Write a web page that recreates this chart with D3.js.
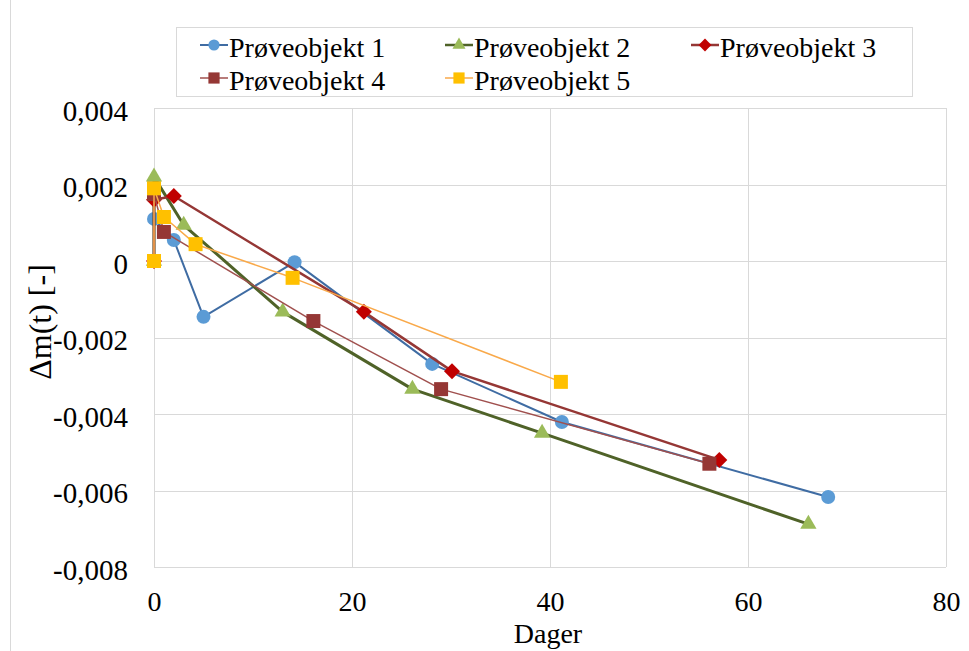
<!DOCTYPE html>
<html>
<head>
<meta charset="utf-8">
<script src="https://cdn.jsdelivr.net/npm/d3@7"></script>
<style>
  html, body { margin: 0; padding: 0; background: #ffffff; }
  svg { display: block; }
</style>
</head>
<body>
<svg id="chart" width="969" height="651"></svg>
<script>
// ---- Data ----
const seriesNames = ["Prøveobjekt 1", "Prøveobjekt 2", "Prøveobjekt 3", "Prøveobjekt 4", "Prøveobjekt 5"];
const days1 = [0, 0, 0, 2, 5, 14.2, 28.1, 41.2, 68.1];
const mass1 = [0, 0.00205, 0.0011, 0.00055, -0.00146, -0.00003, -0.00269, -0.00421, -0.00617];
const days2 = [0, 0, 3, 13, 26.1, 39.2, 66.1];
const mass2 = [0, 0.0022, 0.00094, -0.00133, -0.00335, -0.0045, -0.00688];
const days3 = [0, 0, 2, 21.2, 30.1, 57.1];
const mass3 = [0, 0.0016, 0.0017, -0.00133, -0.00288, -0.0052];
const days4 = [0, 0, 1, 16.1, 29, 56.1];
const mass4 = [0, 0.00175, 0.00076, -0.00157, -0.00335, -0.0053];
const days5 = [0, 0, 1, 4.2, 14, 41.1];
const mass5 = [0, 0.0019, 0.00115, 0.00044, -0.00044, -0.00316];
const xTicks = [0, 20, 40, 60, 80];
const yTicks = [-0.008, -0.006, -0.004, -0.002, 0, 0.002, 0.004];
const xTitle = "Dager";
const yTitle = "Δm(t) [-]";

const FONT = "'Liberation Serif', Tinos, 'Times New Roman', 'DejaVu Serif', serif";

// ---- Styles ----
const styles = [
  { line: "#3F6CA3", lw: 2,   fill: "#5B9BD5", shape: "circle" },
  { line: "#4F6228", lw: 3,   fill: "#9BBB59", shape: "triangle" },
  { line: "#953735", lw: 2.5, fill: "#C00000", shape: "diamond" },
  { line: "#A0504E", lw: 1.5, fill: "#953735", shape: "square" },
  { line: "#F9A94A", lw: 1.5, fill: "#FFC000", shape: "square" }
];
const seriesData = [
  days1.map((d, i) => [d, mass1[i]]),
  days2.map((d, i) => [d, mass2[i]]),
  days3.map((d, i) => [d, mass3[i]]),
  days4.map((d, i) => [d, mass4[i]]),
  days5.map((d, i) => [d, mass5[i]])
];

const svg = d3.select("#chart");
const L = 154, R = 946, T = 108, B = 567;
const x = d3.scaleLinear().domain([0, 80]).range([L, R]);
const y = d3.scaleLinear().domain([-0.008, 0.004]).range([B, T]);

// outer chart border (left edge visible)
svg.append("line").attr("x1", 10.5).attr("x2", 10.5).attr("y1", 0).attr("y2", 651)
  .attr("stroke", "#d9d9d9").attr("stroke-width", 1);

// gridlines
const grid = svg.append("g");
grid.selectAll(".hg").data(yTicks).join("line")
  .attr("x1", L).attr("x2", R)
  .attr("y1", d => Math.round(y(d)) + 0.5).attr("y2", d => Math.round(y(d)) + 0.5)
  .attr("stroke", "#d9d9d9").attr("stroke-width", 1);
grid.selectAll(".vg").data(xTicks).join("line")
  .attr("y1", T).attr("y2", B)
  .attr("x1", d => Math.round(x(d)) + 0.5).attr("x2", d => Math.round(x(d)) + 0.5)
  .attr("stroke", "#d9d9d9").attr("stroke-width", 1);

// axes
const fmtY = d => d === 0 ? "0" : (d < 0 ? "-" : "") + Math.abs(d).toFixed(3).replace(".", ",");
const yAxis = svg.append("g").attr("transform", `translate(${L},0)`)
  .call(d3.axisLeft(y).tickValues(yTicks).tickFormat(fmtY).tickSize(0).tickPadding(26));
yAxis.attr("font-family", FONT);
yAxis.select(".domain").remove();
yAxis.selectAll("text").attr("dy", "0.42em").attr("font-size", 29)
  .attr("font-family", FONT).attr("fill", "#000");

const xAxis = svg.append("g").attr("transform", `translate(0,${B})`)
  .call(d3.axisBottom(x).tickValues(xTicks).tickFormat(d => String(d)).tickSize(0).tickPadding(24));
xAxis.attr("font-family", FONT);
xAxis.select(".domain").remove();
xAxis.selectAll("text").attr("font-size", 28)
  .attr("font-family", FONT).attr("fill", "#000");

// axis titles
svg.append("text").attr("x", (L + R) / 2 - 2).attr("y", 643).attr("text-anchor", "middle")
  .attr("font-family", FONT).attr("font-size", 28).attr("fill", "#000").text(xTitle);
svg.append("text").attr("transform", "translate(51,322) rotate(-90)").attr("text-anchor", "middle")
  .attr("font-family", FONT).attr("font-size", 32).attr("fill", "#000").text(yTitle);

// marker generator
function markerPath(shape, scale) {
  const s = scale || 1;
  if (shape === "circle") return d3.symbol().type(d3.symbolCircle).size(Math.PI * 49 * s * s)();
  if (shape === "triangle") return d3.symbol().type(d3.symbolTriangle).size(115 * s * s)();
  if (shape === "diamond") return d3.symbol().type(d3.symbolSquare).size(128 * s * s)();
  return d3.symbol().type(d3.symbolSquare).size(196 * s * s)();
}
function markerTransform(shape, px, py) {
  return shape === "diamond" ? `translate(${px},${py}) rotate(45)` : `translate(${px},${py})`;
}

// series
const lineGen = d3.line().x(d => x(d[0])).y(d => y(d[1]));
seriesData.forEach((data, i) => {
  const st = styles[i];
  const g = svg.append("g");
  g.append("path").datum(data).attr("d", lineGen)
    .attr("fill", "none").attr("stroke", st.line).attr("stroke-width", st.lw)
    .attr("stroke-linejoin", "round");
  g.selectAll("path.m").data(data).join("path").attr("class", "m")
    .attr("d", markerPath(st.shape))
    .attr("transform", d => markerTransform(st.shape, x(d[0]), y(d[1])))
    .attr("fill", st.fill);
});

// legend
svg.append("rect").attr("x", 176.5).attr("y", 27.5).attr("width", 736).attr("height", 69)
  .attr("fill", "#fff").attr("stroke", "#d9d9d9").attr("stroke-width", 1);
const legendPos = [[200, 45], [445, 45], [691, 45], [200, 78], [445, 78]];
seriesNames.forEach((name, i) => {
  const st = styles[i];
  const [lx, ly] = legendPos[i];
  const g = svg.append("g");
  g.append("line").attr("x1", lx).attr("x2", lx + 28).attr("y1", ly).attr("y2", ly)
    .attr("stroke", st.line).attr("stroke-width", Math.min(st.lw, 2.5));
  g.append("path").attr("d", markerPath(st.shape, 0.8))
    .attr("transform", markerTransform(st.shape, lx + 14, ly)).attr("fill", st.fill);
  g.append("text").attr("x", lx + 29).attr("y", ly + 12)
    .attr("font-family", FONT).attr("font-size", 28).attr("fill", "#000").text(name);
});
</script>
</body>
</html>
